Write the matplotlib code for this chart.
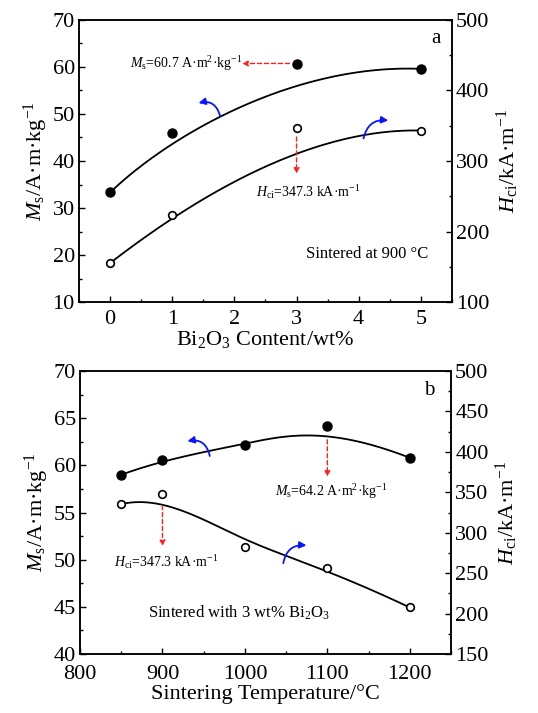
import numpy as np
import matplotlib
matplotlib.use('Agg')
import matplotlib.pyplot as plt
from matplotlib.ticker import MultipleLocator

plt.rcParams['font.family'] = 'Liberation Serif'
plt.rcParams['mathtext.fontset'] = 'custom'
plt.rcParams['mathtext.rm'] = 'Liberation Serif'
plt.rcParams['mathtext.it'] = 'Liberation Serif:italic'

# panel a: Bi2O3 content
bi_content = [0, 1, 3, 5]
ms_a = [33.3, 46.0, 60.7, 59.6]
hci_a = [155.3, 222.8, 347.5, 343.2]

# panel b: sintering temperature
temps = [850, 900, 1000, 1100, 1200]
ms_b = [59.0, 60.6, 62.2, 64.2, 60.8]
hci_b = [335.3, 347.3, 282.6, 255.8, 207.6]


def bspline(xs, ys, k=3, n=200):
    # clamped B-spline through the control points, like Origin's B-spline line
    P = np.column_stack([xs, ys]).astype(float)
    m = len(P)
    inner = np.linspace(0, 1, m - k + 1)[1:-1]
    knots = np.concatenate([np.zeros(k + 1), inner, np.ones(k + 1)])
    t = np.linspace(0, 1, n)
    t[-1] = 1 - 1e-9
    N = np.zeros((n, len(knots) - 1))
    for i in range(len(knots) - 1):
        N[:, i] = (t >= knots[i]) & (t < knots[i + 1])
    for d in range(1, k + 1):
        Nn = np.zeros((n, len(knots) - 1 - d))
        for i in range(len(knots) - 1 - d):
            a = knots[i + d] - knots[i]
            b = knots[i + d + 1] - knots[i + 1]
            left = (t - knots[i]) / a * N[:, i] if a > 0 else 0
            right = (knots[i + d + 1] - t) / b * N[:, i + 1] if b > 0 else 0
            Nn[:, i] = left + right
        N = Nn
    C = N @ P
    return C[:, 0], C[:, 1]


def style(ax, ax2, xpad=5):
    for a in (ax, ax2):
        a.tick_params(which='both', direction='in', labelsize=16, top=False)
        a.tick_params(which='major', length=4, width=1)
        a.tick_params(which='minor', length=2.5, width=1)
        for s in a.spines.values():
            s.set_linewidth(1.1)
    ax.tick_params(axis='x', pad=xpad)
    ax.tick_params(axis='y', pad=3)
    ax2.tick_params(axis='y', pad=3)


red = dict(arrowstyle='-|>', color='#ff2020', ls=(0, (3, 2)), lw=1, mutation_scale=8)
blue = dict(arrowstyle='-|>', color='#0a14ff', lw=1.3, mutation_scale=10)

fig = plt.figure(figsize=(5.38, 7.13), dpi=100)

# ---------- panel a ----------
ax = fig.add_axes([0.1468, 0.5764, 0.6932, 0.3956])
ax2 = ax.twinx()
x, y = bspline(bi_content, ms_a)
ax.plot(x, y, color='black', lw=1.3)
ax.plot(bi_content, ms_a, 'o', color='black', ms=6.5)
x, y = bspline(bi_content, hci_a)
ax2.plot(x, y, color='black', lw=1.3)
ax2.plot(bi_content, hci_a, 'o', mfc='white', mec='black', mew=1.2, ms=5.5)

ax.set_xlim(-0.5, 5.5)
ax.set_ylim(10, 70)
ax2.set_ylim(100, 500)
ax.xaxis.set_major_locator(MultipleLocator(1))
ax.xaxis.set_minor_locator(MultipleLocator(0.5))
ax.yaxis.set_major_locator(MultipleLocator(10))
ax.yaxis.set_minor_locator(MultipleLocator(5))
ax2.yaxis.set_major_locator(MultipleLocator(100))
ax2.yaxis.set_minor_locator(MultipleLocator(50))
style(ax, ax2, xpad=6)

ax.set_xlabel(r'Bi$_2$O$_3$ Content/wt%', fontsize=16, labelpad=0)
ax.set_ylabel(r'$M_{\rm s}$/A·m·kg$^{-1}$', fontsize=16, labelpad=2)
ax2.set_ylabel(r'$H_{\rm ci}$/kA·m$^{-1}$', fontsize=16, labelpad=4)

ax.annotate('', xy=(2.08, 60.75), xytext=(2.93, 60.75), arrowprops=red)
ax.text(0.32, 60.75, r'$M_{\rm s}$=60.7 A·m$^2$·kg$^{-1}$', fontsize=10, va='center')
ax2.annotate('', xy=(3.0, 278), xytext=(3.0, 338), arrowprops=red)
ax2.text(2.35, 256, r'$H_{\rm ci}$=347.3 kA·m$^{-1}$', fontsize=10, va='center')
ax.annotate('', xy=(1.38, 52.2), xytext=(1.78, 49.0),
            arrowprops=dict(connectionstyle='arc3,rad=0.55', **blue))
ax2.annotate('', xy=(4.52, 357), xytext=(4.07, 328),
             arrowprops=dict(connectionstyle='arc3,rad=-0.5', **blue))
ax.text(3.16, 20.2, 'Sintered at 900 °C', fontsize=12, va='center')
ax.text(0.97, 0.935, 'a', transform=ax.transAxes, fontsize=15, ha='right', va='center')

# ---------- panel b ----------
bx = fig.add_axes([0.1487, 0.0827, 0.6896, 0.397])
bx2 = bx.twinx()
x, y = bspline(temps, ms_b)
bx.plot(x, y, color='black', lw=1.3)
bx.plot(temps, ms_b, 'o', color='black', ms=6.5)
x, y = bspline(temps, hci_b)
bx2.plot(x, y, color='black', lw=1.3)
bx2.plot(temps, hci_b, 'o', mfc='white', mec='black', mew=1.2, ms=5.5)

bx.set_xlim(800, 1250)
bx.set_ylim(40, 70)
bx2.set_ylim(150, 500)
bx.xaxis.set_major_locator(MultipleLocator(100))
bx.xaxis.set_minor_locator(MultipleLocator(50))
bx.yaxis.set_major_locator(MultipleLocator(5))
bx.yaxis.set_minor_locator(MultipleLocator(2.5))
bx2.yaxis.set_major_locator(MultipleLocator(50))
bx2.yaxis.set_minor_locator(MultipleLocator(25))
style(bx, bx2, xpad=8)

bx.set_xlabel('Sintering Temperature/°C', fontsize=16, labelpad=0)
bx.set_ylabel(r'$M_{\rm s}$/A·m·kg$^{-1}$', fontsize=16, labelpad=2)
bx2.set_ylabel(r'$H_{\rm ci}$/kA·m$^{-1}$', fontsize=16, labelpad=4)

bx.annotate('', xy=(1100, 58.5), xytext=(1100, 63.0), arrowprops=red)
bx.text(1036, 57.2, r'$M_{\rm s}$=64.2 A·m$^2$·kg$^{-1}$', fontsize=10, va='center')
bx2.annotate('', xy=(900, 280), xytext=(900, 337), arrowprops=red)
bx2.text(841, 263.8, r'$H_{\rm ci}$=347.3 kA·m$^{-1}$', fontsize=10, va='center')
bx.annotate('', xy=(927, 62.5), xytext=(958, 60.7),
            arrowprops=dict(connectionstyle='arc3,rad=0.55', **blue))
bx2.annotate('', xy=(1078, 284), xytext=(1046, 259),
             arrowprops=dict(connectionstyle='arc3,rad=-0.5', **blue))
bx.text(882, 44.4, r'Sintered with 3 wt% Bi$_2$O$_3$', fontsize=12, va='center')
bx.text(0.955, 0.93, 'b', transform=bx.transAxes, fontsize=15, ha='right', va='center')

plt.savefig('out.png', dpi=100)
